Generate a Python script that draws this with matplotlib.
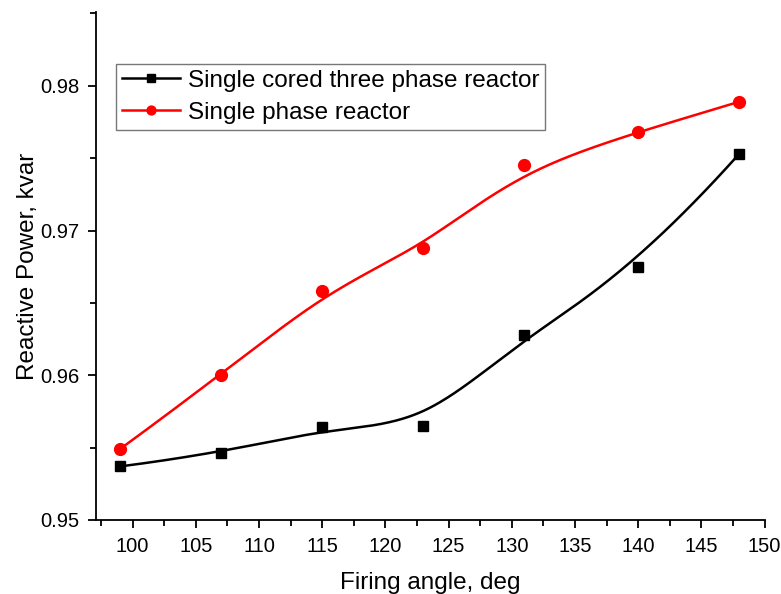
import numpy as np
import matplotlib
matplotlib.use("Agg")
from matplotlib import pyplot as plt
from matplotlib.ticker import MultipleLocator

plt.rcParams['font.family'] = ['Liberation Sans', 'DejaVu Sans']

firing_angle = [99, 107, 115, 123, 131, 140, 148]
three_phase = [0.9537, 0.9546, 0.9564, 0.9565, 0.9628, 0.9675, 0.9753]
single_phase = [0.9549, 0.9600, 0.9658, 0.9688, 0.9745, 0.9768, 0.9789]

labels = ["Single cored three phase reactor", "Single phase reactor"]


def bspline(xs, ys, n=300):
    # clamped cubic B-spline with the data points as control points
    pts = np.column_stack([xs, ys]).astype(float)
    k = 3
    m = len(pts)
    knots = np.concatenate([np.zeros(k), np.arange(m - k + 1), np.full(k, m - k)]).astype(float)
    t = np.linspace(0, m - k, n)
    t[-1] -= 1e-9

    def basis(i, p, t):
        if p == 0:
            return ((knots[i] <= t) & (t < knots[i + 1])).astype(float)
        a = 0.0
        b = 0.0
        d1 = knots[i + p] - knots[i]
        d2 = knots[i + p + 1] - knots[i + 1]
        if d1 > 0:
            a = (t - knots[i]) / d1 * basis(i, p - 1, t)
        if d2 > 0:
            b = (knots[i + p + 1] - t) / d2 * basis(i + 1, p - 1, t)
        return a + b

    B = np.array([basis(i, k, t) for i in range(m)])
    curve = B.T @ pts
    return curve[:, 0], curve[:, 1]


fig = plt.figure(figsize=(7.81, 5.94), dpi=100)
ax = fig.add_axes([0.1229, 0.1246, 0.856, 0.8552])

for ys, color, marker, ms, label in [
    (three_phase, 'black', 's', 7.5, labels[0]),
    (single_phase, 'red', 'o', 8.5, labels[1]),
]:
    cx, cy = bspline(firing_angle, ys)
    ax.plot(cx, cy, color=color, lw=1.8)
    ax.plot(firing_angle, ys, linestyle='none', marker=marker, ms=ms, color=color)
    ax.plot([], [], color=color, lw=1.8, marker=marker, ms=ms * 0.75, label=label)

ax.set_xlim(97.1, 150)
ax.set_ylim(0.95, 0.9851)

ax.xaxis.set_major_locator(MultipleLocator(5))
ax.xaxis.set_minor_locator(MultipleLocator(2.5))
ax.yaxis.set_major_locator(MultipleLocator(0.01))
ax.yaxis.set_minor_locator(MultipleLocator(0.005))
ax.yaxis.set_major_formatter(plt.FuncFormatter(lambda v, _: f"{v:.2f}"))

ax.spines['top'].set_visible(False)
ax.spines['right'].set_visible(False)
ax.spines['left'].set_linewidth(1.3)
ax.spines['bottom'].set_linewidth(1.3)
ax.tick_params(which='major', direction='out', length=6, width=1.3, labelsize=14.5, pad=6)
ax.tick_params(which='minor', direction='out', length=4, width=1.3)

ax.set_xlabel("Firing angle, deg", fontsize=17.5, labelpad=12)
ax.set_ylabel("Reactive Power, kvar", fontsize=17.5, labelpad=1)

leg = ax.legend(loc='upper left', bbox_to_anchor=(0.03, 0.898), fontsize=17.5,
                frameon=True, fancybox=False, edgecolor='#555555',
                handlelength=2.4, handletextpad=0.3, borderpad=0.25,
                labelspacing=0.4, borderaxespad=0)
leg.get_frame().set_linewidth(1.0)

fig.savefig("out.png", dpi=100)
